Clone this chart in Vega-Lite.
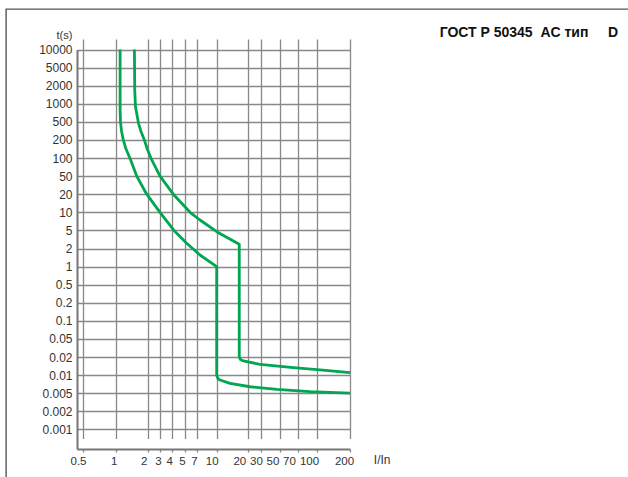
{
  "$schema": "https://vega.github.io/schema/vega-lite/v6.json",
  "width": 624,
  "height": 470,
  "autosize": "none",
  "padding": {"left": 6, "top": 9, "right": -2, "bottom": -2},
  "background": "white",
  "title": {
    "text": "ГОСТ Р 50345\u00a0\u00a0AC тип\u00a0\u00a0\u00a0\u00a0\u00a0D",
    "anchor": "end",
    "frame": "group",
    "offset": -38,
    "baseline": "middle",
    "dx": -12,
    "font": "Liberation Sans",
    "fontSize": 14,
    "fontWeight": "bold",
    "color": "#111"
  },
  "data": {
    "values": [
      {"curve": "A", "i": 0, "I": 1.1, "t": 10000},
      {"curve": "A", "i": 1, "I": 1.1, "t": 800},
      {"curve": "A", "i": 2, "I": 1.11, "t": 500},
      {"curve": "A", "i": 3, "I": 1.134, "t": 315},
      {"curve": "A", "i": 4, "I": 1.179, "t": 200},
      {"curve": "A", "i": 5, "I": 1.25, "t": 141},
      {"curve": "A", "i": 6, "I": 1.363, "t": 99},
      {"curve": "A", "i": 7, "I": 1.576, "t": 50},
      {"curve": "A", "i": 8, "I": 1.957, "t": 20},
      {"curve": "A", "i": 9, "I": 3.0, "t": 10},
      {"curve": "A", "i": 10, "I": 4.12, "t": 5},
      {"curve": "A", "i": 11, "I": 5.24, "t": 2.6},
      {"curve": "A", "i": 12, "I": 7.39, "t": 1.56},
      {"curve": "A", "i": 13, "I": 10, "t": 1},
      {"curve": "A", "i": 14, "I": 10, "t": 0.01},
      {"curve": "A", "i": 15, "I": 10.05, "t": 0.0097},
      {"curve": "A", "i": 16, "I": 10.29, "t": 0.0087},
      {"curve": "A", "i": 17, "I": 10.75, "t": 0.0083},
      {"curve": "A", "i": 18, "I": 13.4, "t": 0.0073},
      {"curve": "A", "i": 19, "I": 21.1, "t": 0.0064},
      {"curve": "A", "i": 20, "I": 46.3, "t": 0.0058},
      {"curve": "A", "i": 21, "I": 87.7, "t": 0.0053},
      {"curve": "A", "i": 22, "I": 200, "t": 0.005},
      {"curve": "B", "i": 0, "I": 1.5, "t": 10000},
      {"curve": "B", "i": 1, "I": 1.51, "t": 1700},
      {"curve": "B", "i": 2, "I": 1.535, "t": 895},
      {"curve": "B", "i": 3, "I": 1.639, "t": 465},
      {"curve": "B", "i": 4, "I": 1.73, "t": 308},
      {"curve": "B", "i": 5, "I": 1.86, "t": 200},
      {"curve": "B", "i": 6, "I": 1.98, "t": 141},
      {"curve": "B", "i": 7, "I": 2.23, "t": 99},
      {"curve": "B", "i": 8, "I": 3.0, "t": 50},
      {"curve": "B", "i": 9, "I": 4.07, "t": 20},
      {"curve": "B", "i": 10, "I": 5.76, "t": 10},
      {"curve": "B", "i": 11, "I": 7.39, "t": 7.45},
      {"curve": "B", "i": 12, "I": 10, "t": 4.68},
      {"curve": "B", "i": 13, "I": 16.4, "t": 2.47},
      {"curve": "B", "i": 14, "I": 16.4, "t": 0.02},
      {"curve": "B", "i": 15, "I": 16.86, "t": 0.0181},
      {"curve": "B", "i": 16, "I": 17.92, "t": 0.0172},
      {"curve": "B", "i": 17, "I": 29.1, "t": 0.0151},
      {"curve": "B", "i": 18, "I": 64.3, "t": 0.0133},
      {"curve": "B", "i": 19, "I": 106.5, "t": 0.0122},
      {"curve": "B", "i": 20, "I": 200, "t": 0.011}
    ]
  },
  "mark": {"type": "line", "color": "#00a651", "strokeWidth": 2.8, "strokeJoin": "round"},
  "encoding": {
    "x": {
      "field": "I",
      "type": "quantitative",
      "scale": {
        "type": "log",
        "nice": false,
        "domain": [0.4, 0.5, 1, 2, 3, 4, 5, 7, 10, 20, 30, 50, 70, 100, 200],
        "range": [71, 77, 109.7, 141.7, 154, 166.3, 179, 191, 210.7, 242.3, 255, 273.5, 292, 311, 344]
      },
      "axis": {
        "orient": "bottom",
        "offset": -30,
        "values": [0.5, 1, 2, 3, 4, 5, 7, 10, 20, 30, 50, 70, 100, 200],
        "format": "~g",
        "labelOffset": {"expr": "datum.value == 1 || datum.value == 3 ? -2 : datum.value == 20 || datum.value == 70 ? -9 : datum.value == 100 ? -8 : datum.value == 50 ? -7 : datum.value == 200 ? -6 : datum.value == 2 ? -4 : datum.value == 4 || datum.value == 5 || datum.value == 7 ? -3 : -5"},
        "labelPadding": 3,
        "labelFontSize": 11.5,
        "tickSize": 3,
        "tickColor": "#888",
        "tickWidth": 1.3,
        "grid": true,
        "gridColor": "#888",
        "gridWidth": 1.3,
        "gridOpacity": 1,
        "domainColor": "#777",
        "domainWidth": 2,
        "title": "I/In",
        "titleX": 375.7,
        "titleY": 10.3,
        "titleBaseline": "middle",
        "titleAlign": "center",
        "titleFontWeight": "normal"
      }
    },
    "y": {
      "field": "t",
      "type": "quantitative",
      "scale": {
        "type": "log",
        "nice": false,
        "domain": [0.0005, 0.001, 0.002, 0.005, 0.01, 0.02, 0.05, 0.1, 0.2, 0.5, 1, 2, 5, 10, 20, 50, 100, 200, 500, 1000, 2000, 5000, 10000],
        "range": [440, 420.4, 402.3, 384.2, 366.1, 348.0, 329.9, 311.9, 293.8, 275.7, 257.6, 239.5, 221.4, 203.3, 185.2, 167.1, 149.0, 130.9, 112.9, 94.8, 76.7, 58.6, 40.5]
      },
      "axis": {
        "orient": "left",
        "offset": -71,
        "values": [0.001, 0.002, 0.005, 0.01, 0.02, 0.05, 0.1, 0.2, 0.5, 1, 2, 5, 10, 20, 50, 100, 200, 500, 1000, 2000, 5000, 10000],
        "format": "~g",
        "ticks": false,
        "labelPadding": 5,
        "labelBaseline": "middle",
        "grid": true,
        "gridColor": "#888",
        "gridWidth": 1.3,
        "gridOpacity": 1,
        "domainColor": "#777",
        "domainWidth": 2,
        "title": "t(s)",
        "titleAngle": 0,
        "titleX": -13,
        "titleY": 26,
        "titleBaseline": "middle",
        "titleAlign": "center",
        "titleFontWeight": "normal",
        "titleFontSize": 11
      }
    },
    "detail": {"field": "curve"},
    "order": {"field": "i"}
  },
  "config": {
    "view": {"stroke": "#555", "strokeWidth": 1.4},
    "axis": {
      "labelFont": "Liberation Sans",
      "labelFontSize": 12,
      "labelColor": "#333",
      "titleFont": "Liberation Sans",
      "titleFontSize": 12,
      "titleColor": "#333",
      "labelFlush": false,
      "labelOverlap": false
    }
  }
}
